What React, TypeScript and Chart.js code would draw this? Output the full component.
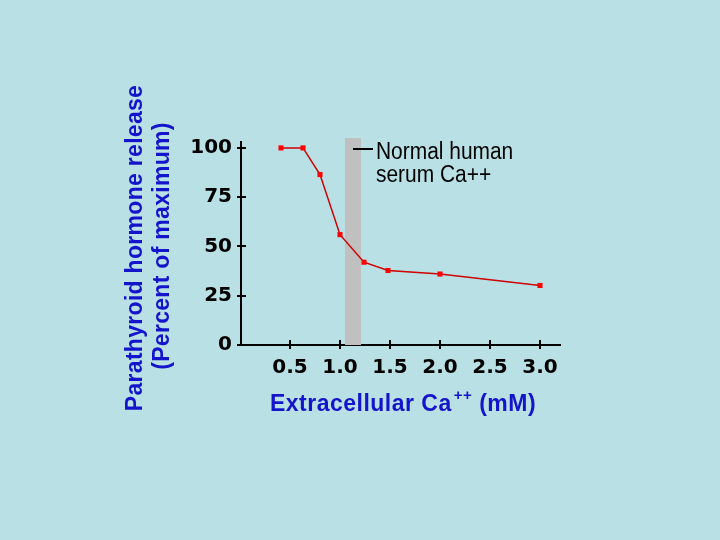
import React, { useEffect, useRef } from "react";
import { Chart, registerables } from "chart.js";

Chart.register(...registerables);

const calciumMM = [0.41, 0.63, 0.8, 1.0, 1.24, 1.48, 2.0, 3.0];
const pthRelease = [100, 100, 86.5, 56, 42, 37.8, 36, 30.2];
const xTickValues = [0.5, 1.0, 1.5, 2.0, 2.5, 3.0];
const yTickValues = [0, 25, 50, 75, 100];
const normalBand = [1.05, 1.21];
const yTitleLines = ["Parathyroid hormone release", "(Percent of maximum)"];
const xTitleMain = "Extracellular Ca";
const xTitleSup = "++";
const xTitleUnit = " (mM)";
const noteLines = ["Normal human", "serum Ca++"];

const BG = "#b9e0e4";
const BLUE = "#1414cc";

export default function App() {
  const ref = useRef<HTMLCanvasElement | null>(null);

  useEffect(() => {
    const canvas = ref.current;
    if (!canvas) return;

    const bgPlugin = {
      id: "bgPlugin",
      beforeDraw(chart: any) {
        const ctx = chart.ctx;
        ctx.save();
        ctx.fillStyle = BG;
        ctx.fillRect(0, 0, chart.width, chart.height);
        ctx.restore();
      },
      beforeDatasetsDraw(chart: any) {
        const ctx = chart.ctx;
        const xs = chart.scales.x;
        const ys = chart.scales.y;
        const x0 = xs.getPixelForValue(normalBand[0]);
        const x1 = xs.getPixelForValue(normalBand[1]);
        const yTop = ys.getPixelForValue(105);
        const yBot = ys.getPixelForValue(0);
        ctx.save();
        ctx.fillStyle = "#c0c0c0";
        ctx.fillRect(x0, yTop, x1 - x0, yBot - yTop);
        ctx.restore();
      },
      afterDraw(chart: any) {
        const ctx = chart.ctx;
        const xs = chart.scales.x;
        const ys = chart.scales.y;
        const ax = xs.left;
        const ay = ys.bottom;
        ctx.save();
        // inner tick parts
        ctx.strokeStyle = "#000";
        ctx.lineWidth = 2;
        ctx.beginPath();
        for (const v of yTickValues) {
          if (v === 0) continue;
          const py = Math.round(ys.getPixelForValue(v));
          ctx.moveTo(ax, py);
          ctx.lineTo(ax + 5, py);
        }
        for (const v of xTickValues) {
          const px = Math.round(xs.getPixelForValue(v));
          ctx.moveTo(px, ay);
          ctx.lineTo(px, ay - 5);
        }
        ctx.stroke();

        // y title
        ctx.fillStyle = BLUE;
        ctx.font = "bold 23px 'Liberation Sans', Arial, sans-serif";
        (ctx as any).letterSpacing = "0.3px";
        ctx.textAlign = "center";
        ctx.textBaseline = "middle";
        const cys = [248, 246];
        const cxs = [136, 163];
        yTitleLines.forEach((t, i) => {
          ctx.save();
          ctx.translate(cxs[i], cys[i]);
          ctx.rotate(-Math.PI / 2);
          ctx.fillText(t, 0, 0);
          ctx.restore();
        });

        // x title with superscript
        ctx.textBaseline = "alphabetic";
        ctx.textAlign = "left";
        (ctx as any).letterSpacing = "0.5px";
        const mainFont = "bold 23px 'Liberation Sans', Arial, sans-serif";
        const supFont = "bold 15px 'Liberation Sans', Arial, sans-serif";
        ctx.font = mainFont;
        const w1 = ctx.measureText(xTitleMain).width;
        const w3 = ctx.measureText(xTitleUnit).width;
        ctx.font = supFont;
        const w2 = ctx.measureText(xTitleSup).width + 2;
        const total = w1 + w2 + w3;
        const startX = 403 - total / 2;
        const base = 411;
        ctx.font = mainFont;
        ctx.fillText(xTitleMain, startX, base);
        ctx.font = supFont;
        ctx.fillText(xTitleSup, startX + w1 + 2, base - 11);
        ctx.font = mainFont;
        ctx.fillText(xTitleUnit, startX + w1 + w2, base);

        // annotation
        (ctx as any).letterSpacing = "0px";
        ctx.fillStyle = "#000";
        ctx.strokeStyle = "#000";
        ctx.lineWidth = 2;
        ctx.beginPath();
        ctx.moveTo(353, 149);
        ctx.lineTo(373, 149);
        ctx.stroke();
        ctx.font = "23px 'Liberation Sans', Arial, sans-serif";
        ctx.save();
        ctx.translate(376, 0);
        ctx.scale(0.91, 1);
        ctx.fillText(noteLines[0], 0, 159);
        ctx.fillText(noteLines[1], 0, 182);
        ctx.restore();
        ctx.restore();
      },
    };

    const chart = new Chart(canvas, {
      type: "scatter",
      data: {
        datasets: [
          {
            data: calciumMM.map((x, i) => ({ x, y: pthRelease[i] })),
            showLine: true,
            borderColor: "#d00000",
            borderWidth: 1.5,
            backgroundColor: "#ff0000",
            pointStyle: "rect",
            pointRadius: 3.6,
            pointBorderWidth: 0,
            tension: 0,
          },
        ],
      },
      options: {
        animation: false,
        responsive: false,
        maintainAspectRatio: false,
        layout: { padding: { left: 181, top: 142, right: 160, bottom: 145 } },
        plugins: {
          legend: { display: false },
          tooltip: { enabled: false },
        },
        scales: {
          x: {
            type: "linear",
            min: 0.01,
            max: 3.2,
            afterBuildTicks: (s: any) => {
              s.ticks = xTickValues.map((v) => ({ value: v }));
            },
            afterFit: (s: any) => {
              s.height = 50;
            },
            grid: {
              drawOnChartArea: false,
              drawTicks: true,
              tickLength: 4,
              color: "#000",
              lineWidth: 2,
            },
            border: { display: true, color: "#000", width: 2 },
            ticks: {
              color: "#000",
              padding: 7,
              maxRotation: 0,
              autoSkip: false,
              font: { family: "'DejaVu Sans'", weight: "bold", size: 20 },
              callback: (v: any) => Number(v).toFixed(1),
            },
          },
          y: {
            type: "linear",
            min: 0,
            max: 103,
            afterBuildTicks: (s: any) => {
              s.ticks = yTickValues.map((v) => ({ value: v }));
            },
            afterFit: (s: any) => {
              s.width = 60;
            },
            grid: {
              drawOnChartArea: false,
              drawTicks: true,
              tickLength: 4,
              color: "#000",
              lineWidth: 2,
            },
            border: { display: true, color: "#000", width: 2 },
            ticks: {
              color: "#000",
              padding: 5,
              autoSkip: false,
              font: { family: "'DejaVu Sans'", weight: "bold", size: 20 },
              callback: (v: any) => String(v),
            },
          },
        },
      },
      plugins: [bgPlugin],
    });

    return () => chart.destroy();
  }, []);

  return (
    <div style={{ position: "fixed", left: 0, top: 0, width: 720, height: 540, background: BG }}>
      <canvas ref={ref} width={720} height={540} style={{ display: "block", width: 720, height: 540 }} />
    </div>
  );
}
